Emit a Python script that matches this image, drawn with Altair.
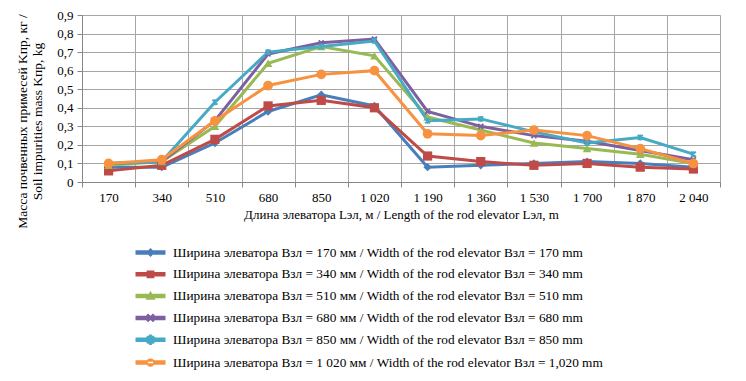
import json
import math
import altair as alt
import pandas as pd

# ---------------- data ----------------
lengths = ["170", "340", "510", "680", "850", "1 020", "1 190", "1 360", "1 530", "1 700", "1 870", "2 040"]

series_names = [
    "Ширина элеватора Bзл = 170 мм / Width of the rod elevator Bзл = 170 mm",
    "Ширина элеватора Bзл = 340 мм / Width of the rod elevator Bзл = 340 mm",
    "Ширина элеватора Bзл = 510 мм / Width of the rod elevator Bзл = 510 mm",
    "Ширина элеватора Bзл = 680 мм / Width of the rod elevator Bзл = 680 mm",
    "Ширина элеватора Bзл = 850 мм / Width of the rod elevator Bзл = 850 mm",
    "Ширина элеватора Bзл = 1 020 мм / Width of the rod elevator Bзл = 1,020 mm",
]

w170 = [0.08, 0.08, 0.21, 0.38, 0.47, 0.41, 0.08, 0.09, 0.10, 0.11, 0.10, 0.08]
w340 = [0.06, 0.09, 0.23, 0.41, 0.44, 0.40, 0.14, 0.11, 0.09, 0.10, 0.08, 0.07]
w510 = [0.09, 0.11, 0.30, 0.64, 0.73, 0.68, 0.35, 0.28, 0.21, 0.18, 0.15, 0.10]
w680 = [0.10, 0.11, 0.33, 0.69, 0.75, 0.77, 0.38, 0.30, 0.25, 0.22, 0.17, 0.12]
w850 = [0.10, 0.11, 0.43, 0.70, 0.73, 0.76, 0.33, 0.34, 0.27, 0.21, 0.24, 0.15]
w1020 = [0.10, 0.12, 0.33, 0.52, 0.58, 0.60, 0.26, 0.25, 0.28, 0.25, 0.18, 0.10]

all_values = [w170, w340, w510, w680, w850, w1020]

rows = []
for name, vals in zip(series_names, all_values):
    for i, v in enumerate(vals):
        rows.append({"series": name, "idx": i, "length": lengths[i], "value": v})
df = pd.DataFrame(rows)

# ---------------- style ----------------
colors = ["#4A7EBB", "#BE4B48", "#98B954", "#7D60A0", "#46AAC5", "#F69240"]
FONT = "Liberation Serif, Times New Roman, DejaVu Serif, serif"

def rect_path(x0, y0, x1, y1):
    return f"M{x0},{y0}L{x1},{y0}L{x1},{y1}L{x0},{y1}Z"

def bar_path(angle_deg, half_len, half_th):
    a = math.radians(angle_deg)
    c, s = math.cos(a), math.sin(a)
    pts = [(-half_len, -half_th), (half_len, -half_th), (half_len, half_th), (-half_len, half_th)]
    p = [(round(x * c - y * s, 3) + 0.0, round(x * s + y * c, 3) + 0.0) for x, y in pts]
    return "M" + "L".join(f"{x},{y}" for x, y in p) + "Z"

# plot markers (stroke paths for x / asterisk)
x_path = "M-0.5,-0.5L0.5,0.5M-0.5,0.5L0.5,-0.5"
ast_path = "M-0.5,-0.5L0.5,0.5M-0.5,0.5L0.5,-0.5M0,-0.6L0,0.6"
marker_shapes = ["diamond", "square", "triangle-up", x_path, ast_path, "circle"]
marker_filled = [True, True, True, False, False, True]
marker_sizes = [70, 85, 75, 100, 100, 95]

# legend symbols: line + marker, all filled
line_seg = rect_path(-1.9, -0.2, 1.9, 0.2)
leg_marker = [
    "M0,-0.45L0.45,0L0,0.45L-0.45,0Z",
    rect_path(-0.42, -0.42, 0.42, 0.42),
    "M0,-0.5L0.5,0.4L-0.5,0.4Z",
    bar_path(45, 0.55, 0.09) + bar_path(-45, 0.55, 0.09),
    bar_path(45, 0.55, 0.09) + bar_path(-45, 0.55, 0.09) + bar_path(90, 0.6, 0.09),
    "M-0.45,0A0.45,0.45 0 1,0 0.45,0A0.45,0.45 0 1,0 -0.45,0Z",
]
legend_shapes = [line_seg + m for m in leg_marker]

color_scale = alt.Scale(domain=series_names, range=colors)

PLOT_W = 638
band_px = PLOT_W / len(lengths)

# ticks / grid at category boundaries, labels shifted to the category centres
x_vals = [i - 0.5 for i in range(len(lengths) + 1)]
x_label_expr = (
    "datum.value < 11 ? " + json.dumps(lengths, ensure_ascii=False) + "[round(datum.value + 0.5)] : ''"
)

x_enc = alt.X(
    "idx:Q",
    scale=alt.Scale(domain=[-0.5, 11.5], nice=False, zero=False),
    axis=alt.Axis(
        values=x_vals,
        labelExpr=x_label_expr,
        labelOffset=band_px / 2,
        labelOverlap=False,
        labelFlush=False,
        title="Длина элеватора Lэл, м / Length of the rod elevator Lэл, m",
        titlePadding=4,
    ),
)
y_enc = alt.Y(
    "value:Q",
    scale=alt.Scale(domain=[0, 0.9], nice=False),
    axis=alt.Axis(
        values=[round(i * 0.1, 1) for i in range(10)],
        labelExpr="datum.value == 0 ? '0' : replace(format(datum.value, '.1f'), '.', ',')",
        labelOverlap=False,
        title=["Масса почвенных примесей Kпр, кг /", "Soil impurities mass Kпр, kg"],
        titlePadding=12,
        titleY=106,
        titleFontSize=13.5,
    ),
)

legend_props = dict(
    title=None,
    orient="none",
    legendX=60,
    legendY=229,
    direction="vertical",
    symbolSize=225,
    symbolOpacity=1,
    labelFont=FONT,
    labelFontSize=13.3,
    labelColor="#000000",
    labelLimit=700,
    labelOffset=14,
    rowPadding=6.8,
    symbolOffset=0,
)

base = alt.Chart(df).encode(x=x_enc, y=y_enc)

legend_layer = (
    alt.Chart(df)
    .transform_filter("datum.idx < 0")
    .mark_point(filled=True, opacity=1)
    .encode(
        color=alt.Color("series:N", scale=color_scale, legend=alt.Legend(**legend_props)),
        shape=alt.Shape(
            "series:N",
            scale=alt.Scale(domain=series_names, range=legend_shapes),
            legend=alt.Legend(**legend_props),
        ),
    )
)

lines = base.mark_line(strokeWidth=3).encode(
    color=alt.Color("series:N", scale=color_scale, legend=alt.Legend(**legend_props)),
    detail="series:N",
)

point_layers = []
for name, shp, filled, sz in zip(series_names, marker_shapes, marker_filled, marker_sizes):
    point_layers.append(
        base.transform_filter(alt.datum.series == name)
        .mark_point(shape=shp, filled=filled, size=sz, opacity=1, strokeWidth=1.8)
        .encode(color=alt.Color("series:N", scale=color_scale, legend=alt.Legend(**legend_props)))
    )

chart = (
    alt.layer(legend_layer, lines, *point_layers)
    .properties(
        width=PLOT_W,
        height=167,
        autosize=alt.AutoSizeParams(type="none"),
        padding={"left": 74, "top": 7, "right": 18, "bottom": 191},
        background="#FFFFFF",
    )
    .configure_view(stroke=None)
    .configure(font=FONT)
    .configure_axis(
        labelFont=FONT,
        titleFont=FONT,
        labelFontSize=13,
        titleFontSize=13,
        titleFontWeight="normal",
        labelColor="#000000",
        titleColor="#000000",
        grid=True,
        gridColor="#A6A6A6",
        gridWidth=1,
        domainColor="#868686",
        tickColor="#868686",
        tickSize=5,
        labelPadding=4,
    )
    .configure_legend(labelFont=FONT)
)

chart.save("out.html", embed_options={"renderer": "svg", "actions": False})
